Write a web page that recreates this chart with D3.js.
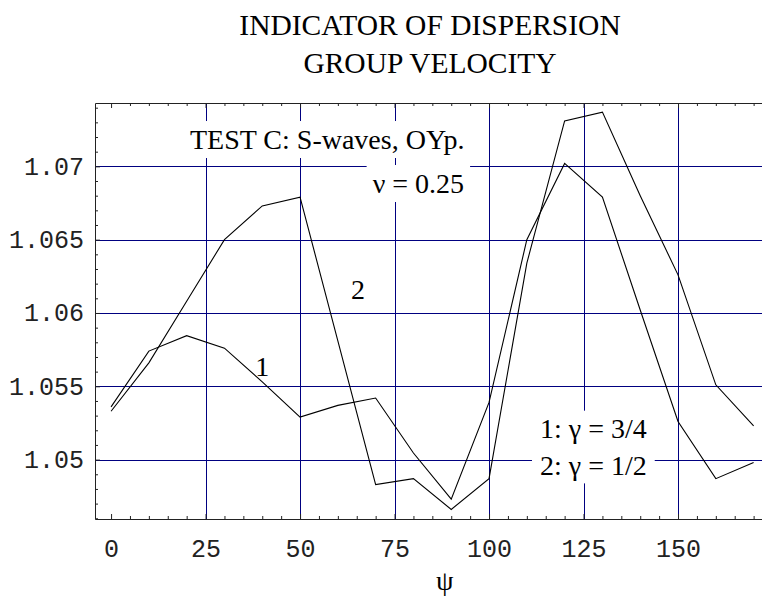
<!DOCTYPE html>
<html>
<head>
<meta charset="utf-8">
<script src="https://cdn.jsdelivr.net/npm/d3@7"></script>
<style>
  body { margin: 0; background: #fff; }
  svg { display: block; }
  .tick text { font-family: "Liberation Mono", "Courier New", monospace; font-size: 25px; fill: #222; }
  .serif { font-family: "Liberation Serif", "Times New Roman", serif; fill: #000; }
</style>
</head>
<body>
<script>
// angle psi, degrees
const psiValues = [0, 10, 20, 30, 40, 50, 60, 70, 80, 90, 100, 110, 120, 130, 140, 150, 160, 170]
// curve 1: gamma = 3/4
const gamma34 = [1.0536, 1.0574, 1.05845, 1.0576, 1.0553, 1.0529, 1.0537, 1.0542, 1.05045, 1.0473,
  1.0539, 1.0650, 1.0702, 1.0679, 1.0602, 1.0526, 1.0487, 1.0498]
// curve 2: gamma = 1/2
const gamma12 = [1.0533, 1.0566, 1.0608, 1.0650, 1.0673, 1.0679, 1.0581, 1.0483, 1.0487, 1.0466,
  1.0487, 1.0634, 1.0731, 1.0737, 1.0680, 1.0626, 1.0551, 1.0523]

const xTicks = [0, 25, 50, 75, 100, 125, 150]
const yTicks = [1.05, 1.055, 1.06, 1.065, 1.07]
const titleLines = ["INDICATOR OF DISPERSION", "GROUP VELOCITY"]

async function drawChart() {
  const dimensions = {
    width: 762,
    height: 597,
    margin: { top: 103, right: -9, bottom: 78, left: 95 },
  }
  dimensions.boundedWidth = dimensions.width - dimensions.margin.left - dimensions.margin.right
  dimensions.boundedHeight = dimensions.height - dimensions.margin.top - dimensions.margin.bottom

  const wrapper = d3.select("body")
    .append("svg")
      .attr("width", dimensions.width)
      .attr("height", dimensions.height)

  const bounds = wrapper.append("g")
    .attr("transform", `translate(${dimensions.margin.left}, ${dimensions.margin.top})`)

  // scales (padding like mathematica's plot range)
  const xScale = d3.scaleLinear()
    .domain([-4.25, 174.6])
    .range([0, dimensions.boundedWidth])

  const yScale = d3.scaleLinear()
    .domain([1.04595, 1.07432])
    .range([dimensions.boundedHeight, 0])

  // grid
  const gridColor = "#000080"
  bounds.append("g").selectAll("line")
    .data(xTicks.slice(1))
    .join("line")
      .attr("x1", d => Math.round(xScale(d)) + 0.5)
      .attr("x2", d => Math.round(xScale(d)) + 0.5)
      .attr("y1", 0)
      .attr("y2", dimensions.boundedHeight)
      .attr("stroke", gridColor)
  bounds.append("g").selectAll("line")
    .data(yTicks)
    .join("line")
      .attr("x1", 0)
      .attr("x2", dimensions.boundedWidth)
      .attr("y1", d => Math.round(yScale(d)) + 0.5)
      .attr("y2", d => Math.round(yScale(d)) + 0.5)
      .attr("stroke", gridColor)

  // text labels with white background
  const notes = [
    { text: "TEST C: S-waves, OYp.", x: 57.2, y: 1.07185, box: true },
    { text: "\u03bd = 0.25", x: 81.3, y: 1.06885, box: true },
    { text: "2", x: 65.3, y: 1.06165, box: false },
    { text: "1", x: 40.0, y: 1.05640, box: false },
  ]
  const noteGroups = bounds.selectAll(".note")
    .data(notes)
    .join("g")
      .attr("class", "note")
      .attr("transform", d => `translate(${xScale(d.x)}, ${yScale(d.y)})`)
  noteGroups.append("text")
      .attr("class", "serif")
      .attr("text-anchor", "middle")
      .attr("dy", "0.35em")
      .style("font-size", "28px")
      .text(d => d.text)
  noteGroups.filter(d => d.box).each(function() {
    const g = d3.select(this)
    const bb = g.select("text").node().getBBox()
    g.insert("rect", "text")
      .attr("x", bb.x - 6)
      .attr("y", bb.y - 3)
      .attr("width", bb.width + 12)
      .attr("height", bb.height + 6)
      .attr("fill", "#fff")
  })

  // legend block
  const legendLines = ["1: \u03b3 = 3/4", "2: \u03b3 = 1/2"]
  const legend = bounds.append("g")
    .attr("transform", `translate(${xScale(127.6)}, ${yScale(1.0502)})`)
  const legendText = legend.append("text")
    .attr("class", "serif")
    .attr("text-anchor", "middle")
    .style("font-size", "28px")
  legendText.selectAll("tspan")
    .data(legendLines)
    .join("tspan")
      .attr("x", 0)
      .attr("y", (d, i) => -19 + i * 37.7)
      .text(d => d)
  const lbb = legendText.node().getBBox()
  legend.insert("rect", "text")
    .attr("x", lbb.x - 8)
    .attr("y", lbb.y - 2)
    .attr("width", lbb.width + 16)
    .attr("height", lbb.height + 4)
    .attr("fill", "#fff")

  // data lines
  const lineGenerator = d3.line()
    .x((d, i) => xScale(psiValues[i]))
    .y(d => yScale(d))
  bounds.selectAll(".curve")
    .data([gamma34, gamma12])
    .join("path")
      .attr("class", "curve")
      .attr("d", lineGenerator)
      .attr("fill", "none")
      .attr("stroke", "#000")
      .attr("stroke-width", 1.1)

  // axes with inward ticks
  const minorX = d3.range(0, 171, 5).filter(d => d % 25 != 0)
  const minorY = d3.range(1046, 1075).map(d => d / 1000).filter(d => Math.round(d * 1000) % 5 != 0)
  const fmtY = d => String(+d.toFixed(3))

  const xAxis = bounds.append("g")
    .attr("transform", `translate(0, ${dimensions.boundedHeight})`)
    .call(d3.axisBottom(xScale).tickValues(xTicks).tickSizeInner(-5).tickSizeOuter(0).tickPadding(20))
  xAxis.append("g")
    .call(d3.axisBottom(xScale).tickValues(minorX).tickSizeInner(-3).tickSizeOuter(0).tickFormat(""))
    .select(".domain").remove()

  const topAxis = bounds.append("g")
    .call(d3.axisTop(xScale).tickValues(xTicks).tickSizeInner(-5).tickSizeOuter(0).tickFormat(""))
  topAxis.append("g")
    .call(d3.axisTop(xScale).tickValues(minorX).tickSizeInner(-3).tickSizeOuter(0).tickFormat(""))
    .select(".domain").remove()

  const yAxis = bounds.append("g")
    .call(d3.axisLeft(yScale).tickValues(yTicks).tickSizeInner(-5).tickSizeOuter(0).tickPadding(11).tickFormat(fmtY))
  yAxis.append("g")
    .call(d3.axisLeft(yScale).tickValues(minorY).tickSizeInner(-3).tickSizeOuter(0).tickFormat(""))
    .select(".domain").remove()

  bounds.selectAll(".domain, .tick line").attr("stroke", "#222")
  xAxis.selectAll(".tick text").attr("dy", "0.71em")

  // axis label
  bounds.append("text")
    .attr("class", "serif")
    .attr("x", xScale(88.3))
    .attr("y", dimensions.boundedHeight + 71)
    .attr("text-anchor", "middle")
    .style("font-size", "28px")
    .text("\u03c8")

  // title
  wrapper.append("g").selectAll("text")
    .data(titleLines)
    .join("text")
      .attr("class", "serif")
      .attr("x", 430)
      .attr("y", (d, i) => 35 + i * 37.7)
      .attr("text-anchor", "middle")
      .style("font-size", "29.5px")
      .text(d => d)
}
drawChart()
</script>
</body>
</html>
